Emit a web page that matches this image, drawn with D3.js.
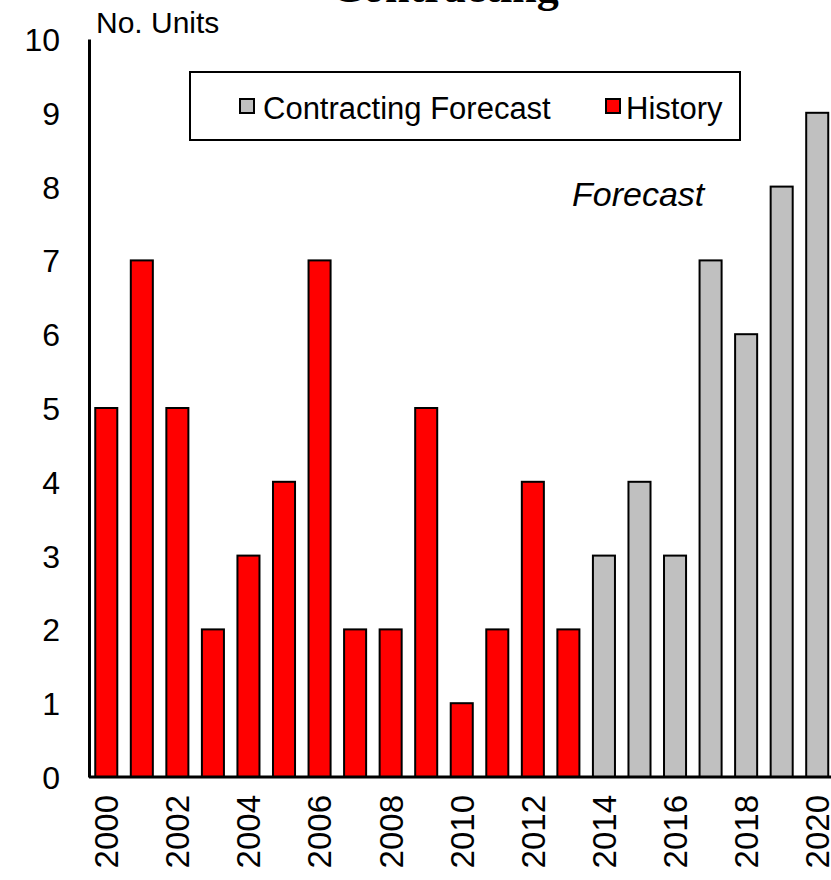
<!DOCTYPE html>
<html>
<head>
<meta charset="utf-8">
<script src="https://cdn.jsdelivr.net/npm/d3@7/dist/d3.min.js"></script>
<style>
  html, body { margin: 0; padding: 0; background: #fff; }
  svg { display: block; }
  text { font-family: "Liberation Sans", Arial, sans-serif; fill: #000; }
</style>
</head>
<body>
<svg id="chart" width="831" height="880"></svg>
<script>
// ---- data ----
const years = [2000, 2001, 2002, 2003, 2004, 2005, 2006, 2007, 2008, 2009, 2010,
               2011, 2012, 2013, 2014, 2015, 2016, 2017, 2018, 2019, 2020];
const historyValues  = [5, 7, 5, 2, 3, 4, 7, 2, 2, 5, 1, 2, 4, 2, null, null, null, null, null, null, null];
const forecastValues = [null, null, null, null, null, null, null, null, null, null, null,
                        null, null, null, 3, 4, 3, 7, 6, 8, 9];
const yTicks = [0, 1, 2, 3, 4, 5, 6, 7, 8, 9, 10];
const xTickLabels = ["2000", "2002", "2004", "2006", "2008", "2010", "2012", "2014", "2016", "2018", "2020"];
const seriesNames = ["Contracting Forecast", "History"];
const seriesColors = ["#c0c0c0", "#ff0000"];
const titleText = "Contracting";
const yAxisTitle = "No. Units";
const annotation = "Forecast";

// ---- layout ----
const svg = d3.select("#chart");
const x = d3.scaleBand().domain(years.map(String)).range([88.5, 835]).paddingInner(0.38).paddingOuter(0.19);
const y = d3.scaleLinear().domain([0, 10]).range([777, 39]);

// title (cropped at top, as in the reference)
svg.append("text").attr("x", 445).attr("y", 2).attr("text-anchor", "middle")
  .style("font-family", "'Liberation Serif', 'Times New Roman', serif")
  .style("font-weight", "bold").style("font-size", "44px").text(titleText);

// bars
const rows = years.map((yr, i) => ({ yr: String(yr), h: historyValues[i], f: forecastValues[i] }));
const barG = svg.append("g");
barG.selectAll("rect.hist").data(rows.filter(d => d.h != null)).join("rect")
  .attr("class", "hist")
  .attr("x", d => x(d.yr)).attr("width", x.bandwidth())
  .attr("y", d => y(d.h)).attr("height", d => y(0) - y(d.h))
  .attr("fill", seriesColors[1]).attr("stroke", "#000").attr("stroke-width", 2);
barG.selectAll("rect.fc").data(rows.filter(d => d.f != null)).join("rect")
  .attr("class", "fc")
  .attr("x", d => x(d.yr)).attr("width", x.bandwidth())
  .attr("y", d => y(d.f)).attr("height", d => y(0) - y(d.f))
  .attr("fill", seriesColors[0]).attr("stroke", "#000").attr("stroke-width", 2);

// y axis
const yAxis = d3.axisLeft(y).tickValues(yTicks).tickSize(0).tickPadding(30).tickFormat(d3.format("d"));
const yg = svg.append("g").attr("transform", "translate(89,0)").call(yAxis);
yg.select(".domain").attr("stroke", "#000").attr("stroke-width", 3);
yg.selectAll(".tick text").style("font-size", "32px").attr("dy", "0.36em")
  .attr("x", -29).attr("text-anchor", "end");

// x axis
const xAxis = d3.axisBottom(x).tickValues(xTickLabels).tickSize(0).tickPadding(0);
const xg = svg.append("g").attr("transform", `translate(0,${y(0)})`).call(xAxis);
xg.select(".domain").remove();
svg.append("line").attr("x1", 89).attr("x2", 831).attr("y1", y(0)).attr("y2", y(0))
  .attr("stroke", "#000").attr("stroke-width", 3);
xg.selectAll(".tick text").style("font-size", "33px")
  .attr("transform", "rotate(-90)").attr("text-anchor", "end")
  .attr("x", -18).attr("y", 0).attr("dy", "0.36em");

// y axis title
svg.append("text").attr("x", 96).attr("y", 33).style("font-size", "30px").text(yAxisTitle);

// legend
const lg = svg.append("g");
lg.append("rect").attr("x", 190).attr("y", 72).attr("width", 550).attr("height", 68)
  .attr("fill", "#fff").attr("stroke", "#000").attr("stroke-width", 2);
const legendItems = [
  { name: seriesNames[0], color: seriesColors[0], sx: 240, tx: 263 },
  { name: seriesNames[1], color: seriesColors[1], sx: 606, tx: 626 }
];
legendItems.forEach(it => {
  lg.append("rect").attr("x", it.sx).attr("y", 99).attr("width", 14).attr("height", 14)
    .attr("fill", it.color).attr("stroke", "#000").attr("stroke-width", 2);
  lg.append("text").attr("x", it.tx).attr("y", 119).style("font-size", "31px").text(it.name);
});

// annotation
svg.append("text").attr("x", 572).attr("y", 206).style("font-size", "34px")
  .style("font-style", "italic").text(annotation);
</script>
</body>
</html>
